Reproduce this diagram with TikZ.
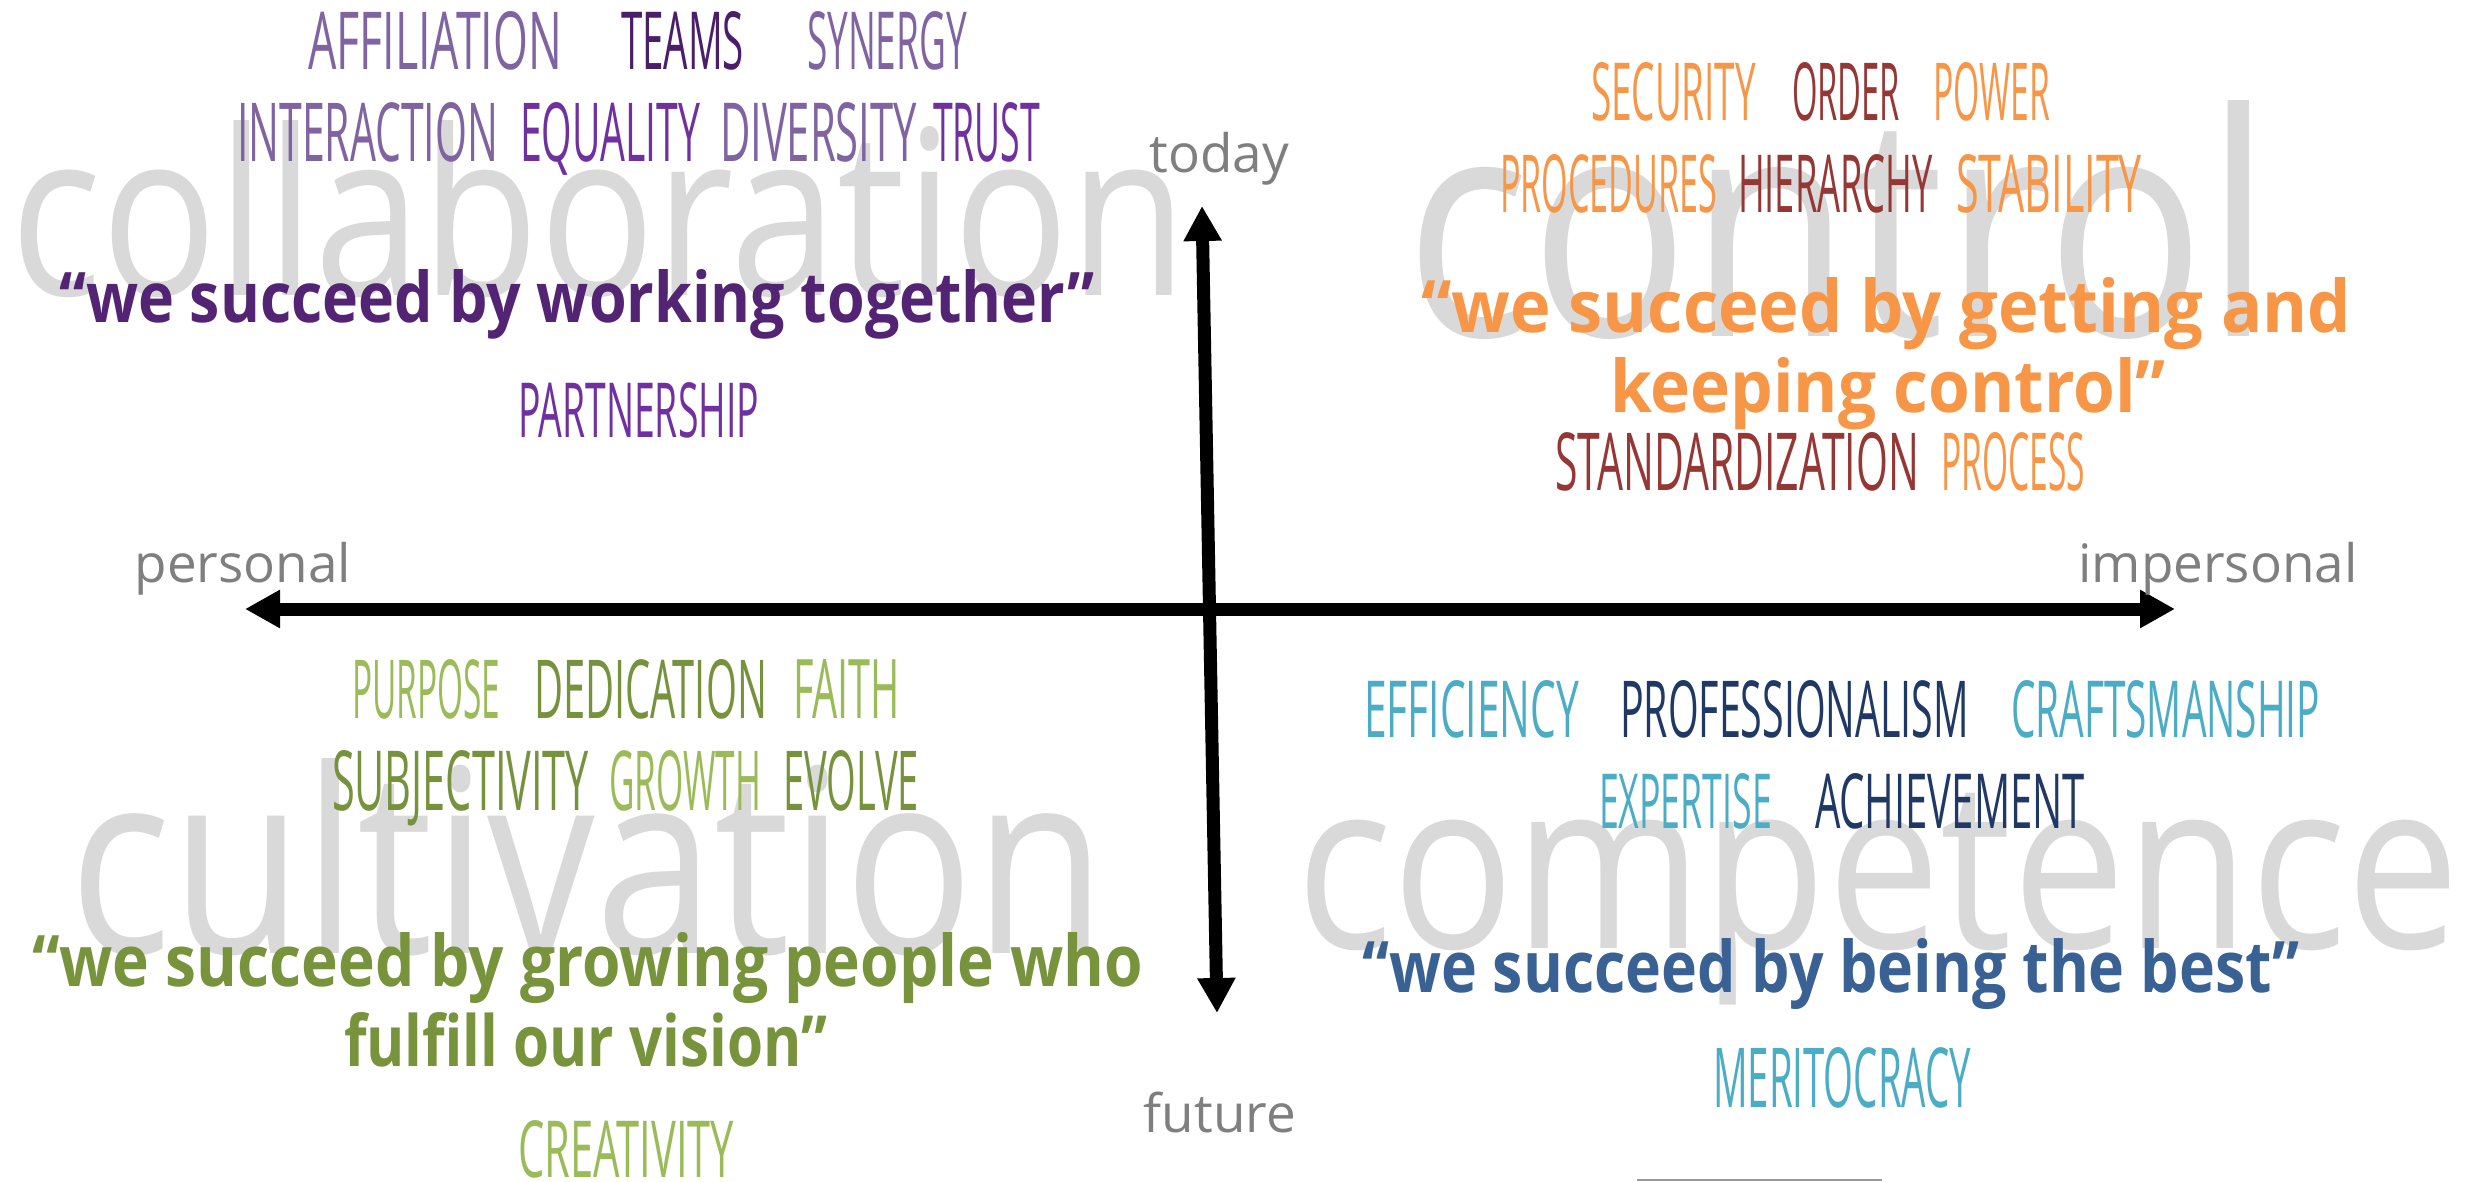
\documentclass[tikz,border=0pt]{standalone}
\usepackage{fontspec}
\usepackage{graphicx}
\setmainfont{Open Sans}
\newfontfamily\kwfont{Open Sans}
\usetikzlibrary{arrows.meta}
\definecolor{purA}{HTML}{8064A2}
\definecolor{purB}{HTML}{7030A0}
\definecolor{purC}{HTML}{4A1E6A}
\definecolor{purQ}{HTML}{532474}
\definecolor{orA}{HTML}{F79646}
\definecolor{orB}{HTML}{953735}
\definecolor{grA}{HTML}{9BBB59}
\definecolor{grB}{HTML}{76923C}
\definecolor{grQ}{HTML}{77933C}
\definecolor{blA}{HTML}{4BACC6}
\definecolor{blB}{HTML}{1F3864}
\definecolor{blQ}{HTML}{3A6194}
\definecolor{bgword}{HTML}{D9D9D9}
\definecolor{axlab}{HTML}{7F7F7F}
% name, color, x-left, x-right, y-top, y-base, text
\newcommand\kwword[7]{\node[kwnode, text=#2] (#1) at (#3,#6) {\resizebox{\dimexpr #4pt-#3pt\relax}{\dimexpr #6pt-#5pt\relax}{\kwfont\fontsize{60}{60}\selectfont #7}};}
% name, x-left, x-right, y-base, ascender height, text
\newcommand\bigword[6]{\node[bignode] (#1) at (#2,#4) {\resizebox{\dimexpr #3pt-#2pt\relax}{#5pt}{\fontsize{200}{200}\selectfont\vphantom{l}#6}};}
% name, color, x-left, x-right, y-base, ascender height, text
\newcommand\quoteline[7]{\node[quotenode, text=#2] (#1) at (#3,#5) {\resizebox{\dimexpr #4pt-#3pt\relax}{#6pt}{\bfseries\fontsize{60}{60}\selectfont\vphantom{l}#7}};}
\begin{document}
\begin{tikzpicture}[x=1pt,y=-1pt,
  kwnode/.style={anchor=base west, inner sep=0pt, outer sep=0pt},
  bignode/.style={anchor=base west, inner sep=0pt, outer sep=0pt, text=bgword},
  quotenode/.style={anchor=base west, inner sep=0pt, outer sep=0pt},
  axislabel/.style={anchor=base, inner sep=0pt, text=axlab, font=\fontsize{53}{60}\selectfont},
  axis/.style={line width=13pt, {Triangle[length=35pt,width=36pt]}-{Triangle[length=35pt,width=36pt]}}]
\fill[white] (0,0) rectangle (2476,1182);
\useasboundingbox (0,0) rectangle (2476,1182);
% background words
\bigword{collab}{10}{1188}{295}{175}{collaboration}
\bigword{control}{1405}{2272}{336}{236}{control}
\bigword{cultiv}{69}{1106}{953}{195}{cultivation}
\bigword{compet}{1296}{2460}{948}{179}{competence}
% collaboration keywords
\kwword{affil}{purA}{308}{562}{12}{70}{AFFILIATION}
\kwword{teams}{purC}{621}{744}{12}{70}{TEAMS}
\kwword{synergy}{purA}{807}{967}{12}{70}{SYNERGY}
\kwword{interact}{purA}{237}{498}{103}{162}{INTERACTION}
\kwword{equality}{purB}{520}{700}{103}{162}{EQUALITY}
\kwword{diversity}{purA}{720}{917}{103}{162}{DIVERSITY}
\kwword{trust}{purB}{933}{1040}{103}{162}{TRUST}
\kwword{partner}{purB}{518}{759}{382}{437}{PARTNERSHIP}
\quoteline{q1}{purQ}{59}{1095}{323}{53}{“we succeed by working together”}
% control keywords
\kwword{security}{orA}{1591}{1756}{63}{121}{SECURITY}
\kwword{order}{orB}{1792}{1900}{63}{121}{ORDER}
\kwword{power}{orA}{1933}{2050}{63}{121}{POWER}
\kwword{procedures}{orA}{1500}{1717}{155}{213}{PROCEDURES}
\kwword{hierarchy}{orB}{1738}{1933}{155}{213}{HIERARCHY}
\kwword{stability}{orA}{1956}{2142}{155}{213}{STABILITY}
\kwword{standard}{orB}{1555}{1919}{432}{490}{STANDARDIZATION}
\kwword{process}{orA}{1941}{2085}{432}{490}{PROCESS}
\quoteline{q2a}{orA}{1421}{2351}{332}{55}{“we succeed by getting and}
\quoteline{q2b}{orA}{1610}{2166}{412}{55}{keeping control”}
% cultivation keywords
\kwword{purpose}{grA}{352}{500}{659}{718}{PURPOSE}
\kwword{dedication}{grB}{534}{767}{659}{718}{DEDICATION}
\kwword{faith}{grA}{793}{900}{659}{718}{FAITH}
\kwword{subject}{grB}{332}{589}{750}{810}{SUBJECTIVITY}
\kwword{growth}{grA}{609}{761}{750}{810}{GROWTH}
\kwword{evolve}{grB}{783}{919}{750}{810}{EVOLVE}
\kwword{creativity}{grA}{518}{734}{1120}{1177}{CREATIVITY}
\quoteline{q3a}{grQ}{32}{1143}{986}{54}{“we succeed by growing people who}
\quoteline{q3b}{grQ}{344}{827}{1066}{54}{fulfill our vision”}
% competence keywords
\kwword{efficiency}{blA}{1364}{1579}{680}{737}{EFFICIENCY}
\kwword{profess}{blB}{1620}{1969}{680}{737}{PROFESSIONALISM}
\kwword{crafts}{blA}{2011}{2320}{680}{737}{CRAFTSMANSHIP}
\kwword{expertise}{blA}{1599}{1772}{773}{828}{EXPERTISE}
\kwword{achieve}{blB}{1815}{2085}{773}{828}{ACHIEVEMENT}
\kwword{merit}{blA}{1713}{1971}{1047}{1107}{MERITOCRACY}
\quoteline{q4}{blQ}{1362}{2300}{992}{54}{“we succeed by being the best”}
% axes
\coordinate (hl) at (245,609);
\coordinate (hr) at (2175,609);
\coordinate (vt) at (1202,206);
\coordinate (vb) at (1217,1013);
\draw[axis] (hl) -- (hr);
\draw[axis] (vt) -- (vb);
\node[axislabel] (today) at (1219,173) {today};
\node[axislabel] (personal) at (243,582) {personal};
\node[axislabel] (impersonal) at (2218,582) {impersonal};
\node[axislabel] (future) at (1220,1132) {future};
% partial grey bar at the bottom edge
\coordinate (barl) at (1637,1180);
\coordinate (barr) at (1882,1180);
\draw[gray!80, line width=2.5pt] (barl) -- (barr);
\end{tikzpicture}
\end{document}
